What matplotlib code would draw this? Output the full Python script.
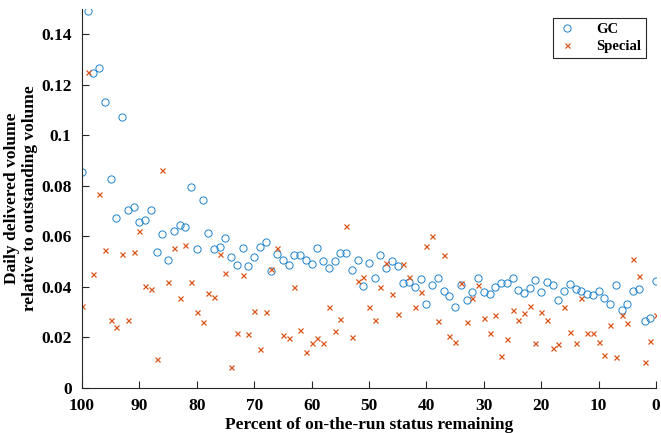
import matplotlib
matplotlib.use("Agg")
import matplotlib.pyplot as plt
import numpy as np

pct_remaining = list(range(100, -1, -1))

gc_volume = [
    0.0856, 0.1492, 0.1248, 0.1267, 0.1131, 0.0827, 0.0672, 0.1071, 0.0703, 0.0716,
    0.0658, 0.0666, 0.0703, 0.0538, 0.0609, 0.0507, 0.0621, 0.0643, 0.0638, 0.0797,
    0.0551, 0.0744, 0.0613, 0.0551, 0.0559, 0.0594, 0.0519, 0.0488, 0.0555, 0.0484,
    0.0517, 0.0559, 0.0576, 0.0463, 0.0531, 0.0506, 0.0486, 0.0525, 0.0526, 0.0506,
    0.0492, 0.0555, 0.0503, 0.0474, 0.0503, 0.0535, 0.0533, 0.0467, 0.0507, 0.0404,
    0.0495, 0.0435, 0.0526, 0.0476, 0.0503, 0.0482, 0.0414, 0.0418, 0.0401, 0.0432,
    0.0331, 0.0408, 0.0434, 0.0382, 0.0364, 0.0321, 0.0406, 0.0347, 0.0379, 0.0436,
    0.0378, 0.0371, 0.0401, 0.0415, 0.0415, 0.0436, 0.0387, 0.0377, 0.0396, 0.0428,
    0.0379, 0.0418, 0.0407, 0.0349, 0.0385, 0.0412, 0.0390, 0.0383, 0.0371, 0.0369,
    0.0383, 0.0356, 0.0331, 0.0406, 0.0307, 0.0333, 0.0382, 0.0390, 0.0266, 0.0276,
    0.0424,
]

special_volume = [
    0.0325, 0.1252, 0.0451, 0.0769, 0.0547, 0.0269, 0.0241, 0.0531, 0.0270, 0.0538,
    0.0620, 0.0404, 0.0390, 0.0114, 0.0864, 0.0419, 0.0552, 0.0354, 0.0566, 0.0418,
    0.0299, 0.0261, 0.0375, 0.0360, 0.0529, 0.0455, 0.0081, 0.0218, 0.0446, 0.0213,
    0.0305, 0.0154, 0.0301, 0.0470, 0.0554, 0.0208, 0.0196, 0.0398, 0.0230, 0.0141,
    0.0179, 0.0199, 0.0176, 0.0319, 0.0224, 0.0274, 0.0641, 0.0201, 0.0422, 0.0440,
    0.0321, 0.0267, 0.0399, 0.0493, 0.0371, 0.0291, 0.0491, 0.0440, 0.0321, 0.0381,
    0.0562, 0.0600, 0.0263, 0.0527, 0.0206, 0.0181, 0.0415, 0.0259, 0.0357, 0.0406,
    0.0276, 0.0216, 0.0288, 0.0125, 0.0195, 0.0308, 0.0269, 0.0295, 0.0324, 0.0179,
    0.0299, 0.0270, 0.0158, 0.0172, 0.0319, 0.0222, 0.0179, 0.0357, 0.0217, 0.0216,
    0.0180, 0.0131, 0.0248, 0.0123, 0.0290, 0.0258, 0.0510, 0.0444, 0.0101, 0.0187,
    0.0290,
]

x_ticks = [100, 90, 80, 70, 60, 50, 40, 30, 20, 10, 0]
y_ticks = [0, 0.02, 0.04, 0.06, 0.08, 0.1, 0.12, 0.14]
y_tick_labels = ["0", "0.02", "0.04", "0.06", "0.08", "0.1", "0.12", "0.14"]

plt.rcParams['font.family'] = ['Liberation Serif', 'DejaVu Serif']
plt.rcParams['font.weight'] = 'bold'

fig = plt.figure(figsize=(6.61, 4.33), dpi=100)
ax = fig.add_axes([0.124, 0.1044, 0.8685, 0.8746])

blue = '#1f83cc'
orange = '#D95319'
ax.plot(pct_remaining, gc_volume, linestyle='none', marker='o', markersize=5.2,
        markerfacecolor='none', markeredgecolor=blue, markeredgewidth=0.7, label='GC')
ax.plot(pct_remaining, special_volume, linestyle='none', marker='x', markersize=3.6,
        color=orange, markeredgewidth=0.9, label='Special')

ax.set_xlim(100, 0)
ax.set_ylim(0, 0.15)
ax.set_xticks(x_ticks)
ax.set_xticklabels([str(t) for t in x_ticks])
ax.set_yticks(y_ticks)
ax.set_yticklabels(y_tick_labels)

for s in ['top', 'right']:
    ax.spines[s].set_visible(False)
for s in ['left', 'bottom']:
    ax.spines[s].set_color('#262626')
    ax.spines[s].set_linewidth(0.8)

ax.tick_params(direction='in', length=5, width=0.8, colors='#262626', labelsize=12.5,
               labelcolor='black')
ax.tick_params(axis='x', pad=7.5)
ax.tick_params(axis='y', pad=7.5)
for lab in ax.get_xticklabels() + ax.get_yticklabels():
    lab.set_fontweight('bold')

ax.set_xlabel('Percent of on-the-run status remaining', fontsize=12.5, fontweight='bold', labelpad=2)
ax.set_ylabel('Daily delivered volume\nrelative to outstanding volume', fontsize=12.5,
              fontweight='bold', labelpad=2, linespacing=1.15)

leg = ax.legend(loc='upper right', bbox_to_anchor=(0.983, 0.976),
                prop={'weight': 'bold', 'size': 10.5}, fancybox=False, framealpha=1,
                edgecolor='#262626', handlelength=1.2, handletextpad=1.4,
                borderpad=0.35, labelspacing=0.2, borderaxespad=0)
leg.get_frame().set_linewidth(0.8)

fig.savefig('out.png', dpi=100)
